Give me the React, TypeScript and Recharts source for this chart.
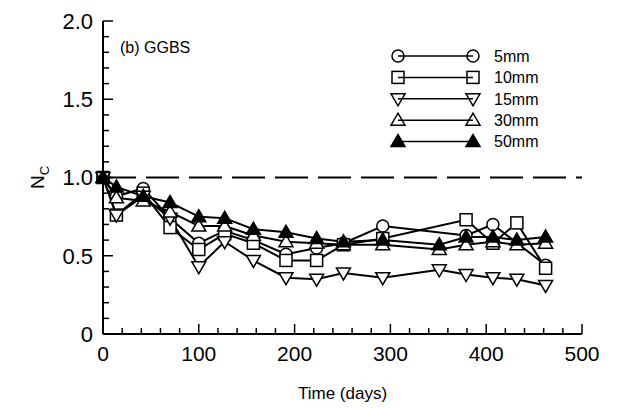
import React from 'react';
import { LineChart, Line, XAxis, YAxis, ReferenceLine, Legend } from 'recharts';

const days = [0, 14, 42, 70, 100, 127, 157, 191, 223, 251, 292, 351, 379, 407, 432, 462];
const nc5mm = [1.0, 0.88, 0.93, 0.74, 0.58, 0.66, 0.6, 0.51, 0.55, 0.58, 0.69, null, 0.63, 0.7, null, 0.44];
const nc10mm = [1.0, 0.76, 0.9, 0.68, 0.54, 0.64, 0.58, 0.47, 0.47, 0.57, 0.61, null, 0.73, 0.58, 0.71, 0.42];
const nc15mm = [1.0, 0.76, 0.88, 0.74, 0.43, 0.59, 0.47, 0.36, 0.35, 0.39, 0.36, 0.41, 0.38, 0.36, 0.35, 0.31];
const nc30mm = [1.0, 0.87, 0.85, 0.78, 0.69, 0.69, 0.63, 0.59, 0.58, 0.57, 0.57, 0.54, 0.57, 0.59, 0.57, 0.58];
const nc50mm = [1.0, 0.94, 0.88, 0.84, 0.75, 0.74, 0.67, 0.65, 0.61, 0.59, 0.6, 0.57, 0.62, 0.62, 0.6, 0.62];

const seriesNames = ['5mm', '10mm', '15mm', '30mm', '50mm'];
const seriesShapes = ['circle', 'square', 'down', 'up', 'upFilled'];
const seriesValues = [nc5mm, nc10mm, nc15mm, nc30mm, nc50mm];

const xTicks = [0, 20, 40, 60, 80, 100, 120, 140, 160, 180, 200, 220, 240, 260, 280, 300, 320, 340, 360, 380, 400, 420, 440, 460, 480, 500];
const xLabelTicks = [0, 100, 200, 300, 400, 500];
const yTicks = [0, 0.1, 0.2, 0.3, 0.4, 0.5, 0.6, 0.7, 0.8, 0.9, 1.0, 1.1, 1.2, 1.3, 1.4, 1.5, 1.6, 1.7, 1.8, 1.9, 2.0];
const yLabelTicks = [0, 0.5, 1.0, 1.5, 2.0];

const FONT = 'Arial, "Liberation Sans", Helvetica, sans-serif';

const data = days.map((d, i) => {
  const row: any = { day: d };
  seriesNames.forEach((n, k) => {
    row[n] = seriesValues[k][i];
  });
  return row;
});

function Marker({ shape, cx, cy, fill }: { shape: string; cx: number; cy: number; fill: string }) {
  const sw = 1.5;
  if (shape === 'circle') {
    return <circle cx={cx} cy={cy} r={6} fill={fill} stroke="#000" strokeWidth={sw} />;
  }
  if (shape === 'square') {
    return <rect x={cx - 6} y={cy - 6} width={12} height={12} fill={fill} stroke="#000" strokeWidth={sw} />;
  }
  if (shape === 'down') {
    return (
      <polygon
        points={`${cx - 7},${cy - 5} ${cx + 7},${cy - 5} ${cx},${cy + 7}`}
        fill={fill}
        stroke="#000"
        strokeWidth={sw}
      />
    );
  }
  const f = shape === 'upFilled' ? '#000' : fill;
  return (
    <polygon
      points={`${cx - 7},${cy + 5} ${cx + 7},${cy + 5} ${cx},${cy - 7}`}
      fill={f}
      stroke="#000"
      strokeWidth={sw}
    />
  );
}

const isLabelX = (v: number) => xLabelTicks.indexOf(v) >= 0;
const isLabelY = (v: number) => yLabelTicks.some((t) => Math.abs(t - v) < 1e-6);

const BottomTick = (p: any) => {
  const v = p.payload.value;
  const major = isLabelX(v);
  return (
    <g>
      <line x1={p.x} x2={p.x} y1={p.y} y2={p.y - (major ? 10 : 6)} stroke="#000" strokeWidth={1.5} />
      {major && (
        <text x={p.x} y={p.y + 27} textAnchor="middle" fontSize={21} fontFamily={FONT} fill="#000">
          {v}
        </text>
      )}
    </g>
  );
};

const TopTick = (p: any) => {
  const v = p.payload.value;
  const major = isLabelX(v);
  return <line x1={p.x} x2={p.x} y1={p.y} y2={p.y + (major ? 10 : 6)} stroke="#000" strokeWidth={1.5} />;
};

const LeftTick = (p: any) => {
  const v = p.payload.value;
  const major = isLabelY(v);
  return (
    <g>
      <line x1={p.x} x2={p.x + (major ? 10 : 6)} y1={p.y} y2={p.y} stroke="#000" strokeWidth={1.5} />
      {major && (
        <text x={p.x - 10} y={p.y} dy="0.36em" textAnchor="end" fontSize={22} fontFamily={FONT} fill="#000">
          {Math.abs(v) < 1e-6 ? '0' : v.toFixed(1)}
        </text>
      )}
    </g>
  );
};

const RightTick = (p: any) => {
  const v = p.payload.value;
  const major = isLabelY(v);
  return <line x1={p.x} x2={p.x - (major ? 10 : 6)} y1={p.y} y2={p.y} stroke="#000" strokeWidth={1.5} />;
};

const YLabel = (props: any) => {
  const vb = props.viewBox;
  const cx = vb.x + 14;
  const cy = vb.y + vb.height / 2;
  return (
    <text
      x={cx}
      y={cy}
      transform={`rotate(-90 ${cx} ${cy})`}
      textAnchor="middle"
      dy="0.35em"
      fontSize={19}
      fontFamily={FONT}
      fill="#000"
    >
      N<tspan fontSize={13} dy={5}>C</tspan>
    </text>
  );
};

const XLabel = (props: any) => {
  const vb = props.viewBox;
  const cx = vb.x + vb.width / 2;
  return (
    <text x={cx} y={vb.y + 65} textAnchor="middle" fontSize={17} fontFamily={FONT} fill="#000">
      Time (days)
    </text>
  );
};

const LegendContent = (props: any) => {
  const payload = ((props.payload || []) as any[])
    .slice()
    .sort((a, b) => seriesNames.indexOf(a.value) - seriesNames.indexOf(b.value));
  return (
    <svg width={180} height={115} style={{ display: 'block' }}>
      {payload.map((entry, i) => {
        const k = seriesNames.indexOf(entry.value);
        const y = 11 + i * 21.4;
        return (
          <g key={entry.value}>
            <line x1={12} x2={87} y1={y} y2={y} stroke="#000" strokeWidth={1.5} />
            <Marker shape={seriesShapes[k]} cx={12} cy={y} fill="none" />
            <Marker shape={seriesShapes[k]} cx={87} cy={y} fill="none" />
            <text x={108} y={y} dy="0.36em" fontSize={16} fontFamily={FONT} fill="#000">
              {entry.value}
            </text>
          </g>
        );
      })}
    </svg>
  );
};

export default function App() {
  return (
    <div style={{ position: 'absolute', left: 0, top: 0, width: 621, height: 409, background: '#fff' }}>
      <LineChart
        width={621}
        height={409}
        data={data}
        margin={{ top: 21, right: 39, bottom: 30, left: 23 }}
        style={{ fontFamily: FONT }}
      >
        <XAxis
          xAxisId="b"
          dataKey="day"
          type="number"
          domain={[0, 500]}
          ticks={xTicks}
          interval={0}
          tickSize={0}
          tickMargin={0}
          tickLine={false}
          axisLine={{ stroke: '#000', strokeWidth: 2 }}
          tick={BottomTick}
          height={45}
          label={{ content: XLabel }}
        />
        <XAxis
          xAxisId="t"
          orientation="top"
          type="number"
          domain={[0, 500]}
          ticks={xTicks}
          interval={0}
          tickSize={0}
          tickMargin={0}
          tickLine={false}
          axisLine={{ stroke: '#000', strokeWidth: 2 }}
          tick={TopTick}
          height={0}
        />
        <YAxis
          yAxisId="l"
          type="number"
          domain={[0, 2]}
          ticks={yTicks}
          interval={0}
          tickSize={0}
          tickMargin={0}
          tickLine={false}
          axisLine={{ stroke: '#000', strokeWidth: 2 }}
          tick={LeftTick}
          width={80}
          label={{ content: YLabel }}
        />
        <YAxis
          yAxisId="r"
          orientation="right"
          type="number"
          domain={[0, 2]}
          ticks={yTicks}
          interval={0}
          tickSize={0}
          tickMargin={0}
          tickLine={false}
          axisLine={{ stroke: '#000', strokeWidth: 2 }}
          tick={RightTick}
          width={0}
        />
        <ReferenceLine
          xAxisId="b"
          yAxisId="l"
          y={1}
          stroke="#000"
          strokeWidth={2}
          strokeDasharray="33 10"
        />
        {seriesNames.map((name, k) => (
          <Line
            key={name}
            xAxisId="b"
            yAxisId="l"
            dataKey={name}
            name={name}
            stroke="#000"
            strokeWidth={2}
            connectNulls
            isAnimationActive={false}
            dot={(p: any) => {
              if (p.value == null || p.cx == null || p.cy == null) return <g key={`${name}-${p.index}`} />;
              return (
                <g key={`${name}-${p.index}`}>
                  <Marker shape={seriesShapes[k]} cx={p.cx} cy={p.cy} fill="#fff" />
                </g>
              );
            }}
            activeDot={false}
          />
        ))}
        <Legend
          layout="vertical"
          align="center"
          verticalAlign="middle"
          content={LegendContent}
          wrapperStyle={{ left: 386, top: 45, width: 180, height: 115 }}
        />
      </LineChart>
      <div
        style={{
          position: 'absolute',
          left: 120,
          top: 39,
          fontFamily: FONT,
          fontSize: 16,
          lineHeight: '18px',
          color: '#000',
          whiteSpace: 'nowrap',
        }}
      >
        (b) GGBS
      </div>
    </div>
  );
}
